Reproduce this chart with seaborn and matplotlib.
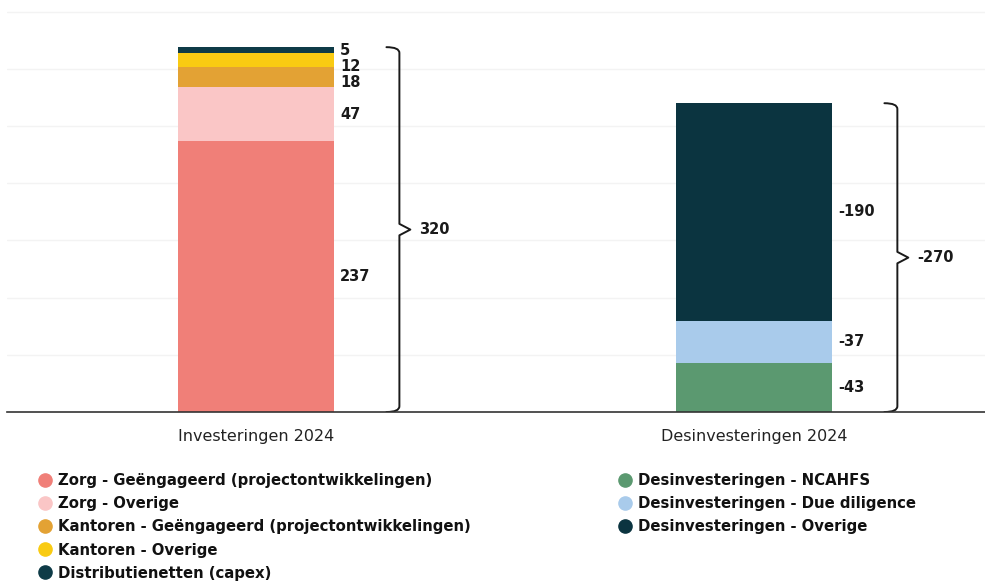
import matplotlib
matplotlib.use("Agg")
import matplotlib.pyplot as plt
import seaborn as sns
import pandas as pd
import numpy as np
from matplotlib.lines import Line2D
from matplotlib.path import Path
from matplotlib.patches import PathPatch

# Categories and values
bars = ["Investeringen 2024", "Desinvesteringen 2024"]

invest_labels = ["Zorg - Geëngageerd (projectontwikkelingen)", "Zorg - Overige",
                 "Kantoren - Geëngageerd (projectontwikkelingen)", "Kantoren - Overige",
                 "Distributienetten (capex)"]
invest_values = [237, 47, 18, 12, 5]
invest_colors = ["#F07F78", "#FAC6C6", "#E3A234", "#F9CB12", "#0E3B47"]

desinv_labels = ["Desinvesteringen - NCAHFS", "Desinvesteringen - Due diligence",
                 "Desinvesteringen - Overige"]
desinv_values = [-43, -37, -190]
desinv_colors = ["#5B9970", "#A9CBEB", "#0B3440"]

totals = [320, -270]

sns.set_theme(style="white")
num_font = ["Liberation Sans Narrow", "DejaVu Sans"]
leg_font = ["DejaVu Sans"]

fig = plt.figure(figsize=(9.85, 5.82), dpi=100)
ax = fig.add_axes([7 / 985, 170 / 582, 978 / 985, 406 / 582])

BAR_W = 0.313


def stacked(bar_name, values, colors):
    heights = np.abs(values)
    tops = np.cumsum(heights)
    df = pd.DataFrame({"bar": bar_name, "top": tops, "color": colors})
    # draw tallest layer first so lower segments sit on top of it
    for _, row in df.iloc[::-1].iterrows():
        sns.barplot(data=pd.DataFrame({"bar": [row["bar"]], "top": [row["top"]]}),
                    x="bar", y="top", order=bars, color=row["color"],
                    width=BAR_W, saturation=1, ax=ax, linewidth=0)
    return heights, tops


def segment_labels(xc, values, heights, tops, min_gap=14):
    centers = tops - heights / 2
    # place from the top down, pushing crowded labels downward
    ys = []
    prev = np.inf
    for c in centers[::-1]:
        y = min(c, prev - min_gap)
        ys.append(y)
        prev = y
    ys = ys[::-1]
    for v, y in zip(values, ys):
        ax.text(xc + BAR_W / 2 + 0.012, y, f"{v}", va="center", ha="left",
                fontsize=10.5, fontweight="bold", family=num_font, color="#1a1a1a")


def brace(xc, y0, y1, label):
    xv = xc + 0.288
    xh = xc + 0.262
    xt = xc + 0.31
    ym = (y0 + y1) / 2
    r = 5
    verts = [(xh, y1), (xv, y1), (xv, y1 - r),
             (xv, ym + r), (xt, ym), (xv, ym - r),
             (xv, y0 + r), (xv, y0), (xh, y0)]
    codes = [Path.MOVETO, Path.CURVE3, Path.CURVE3,
             Path.LINETO, Path.LINETO, Path.LINETO,
             Path.LINETO, Path.CURVE3, Path.CURVE3]
    ax.add_patch(PathPatch(Path(verts, codes), fill=False, lw=1.4,
                           edgecolor="#1a1a1a", capstyle="round", joinstyle="round"))
    ax.text(xt + 0.017, ym, f"{label}", va="center", ha="left", fontsize=10.5,
            fontweight="bold", family=num_font, color="#1a1a1a")


h1, t1 = stacked(bars[0], invest_values, invest_colors)
h2, t2 = stacked(bars[1], desinv_values, desinv_colors)
segment_labels(0, invest_values, h1, t1)
segment_labels(1, desinv_values, h2, t2)
brace(0, 0, t1[-1], totals[0])
brace(1, 0, t2[-1], totals[1])

ax.set_xlim(-0.5, 1.464)
ax.set_ylim(0, 355)
ax.set_yticks(np.arange(50, 351, 50))
ax.set_yticklabels([])
ax.yaxis.grid(True, color="#f3f3f3", lw=1)
ax.set_axisbelow(True)
ax.set_xlabel("")
ax.set_ylabel("")
for s in ["left", "right", "top"]:
    ax.spines[s].set_visible(False)
ax.spines["bottom"].set_color("#333333")
ax.spines["bottom"].set_linewidth(1.2)
ax.set_xticks(range(len(bars)))
ax.set_xticklabels(bars, fontfamily="DejaVu Sans", fontsize=11.5, color="#222222")
ax.tick_params(axis="x", length=0, pad=12)
ax.tick_params(axis="y", length=0)


def make_legend(labels, colors, x_px, y_px):
    handles = [Line2D([0], [0], marker="o", linestyle="none", markersize=9.5,
                      markerfacecolor=c, markeredgecolor=c) for c in colors]
    leg = fig.legend(handles, labels, loc="upper left",
                     bbox_to_anchor=(x_px / 985, 1 - y_px / 582),
                     frameon=False, handlelength=0.8, handletextpad=0.45,
                     labelspacing=0.55, borderpad=0, borderaxespad=0,
                     prop={"family": leg_font, "weight": "bold", "size": 10.7})
    for t in leg.get_texts():
        t.set_color("#111111")
    return leg


make_legend(invest_labels, invest_colors, 39, 473)
make_legend(desinv_labels, desinv_colors, 619, 473)

fig.savefig("out.png", dpi=100)
